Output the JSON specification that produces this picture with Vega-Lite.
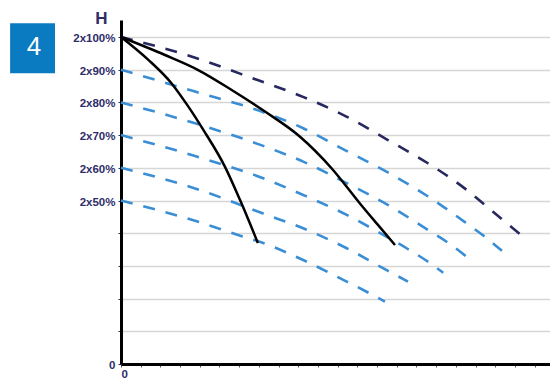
{
  "$schema": "https://vega.github.io/schema/vega-lite/v6.json",
  "width": 429,
  "height": 344,
  "autosize": {"type": "none"},
  "padding": {"left": 121, "top": 20, "right": 0, "bottom": 17},
  "background": "#ffffff",
  "config": {"view": {"stroke": null}},
  "datasets": {
    "curves": [
      {"curve": "c100", "type": "max", "q": 0, "h": 100},
      {"curve": "c100", "type": "max", "q": 3.65, "h": 93.9},
      {"curve": "c100", "type": "max", "q": 6.9, "h": 86.9},
      {"curve": "c100", "type": "max", "q": 9.24, "h": 81.7},
      {"curve": "c100", "type": "max", "q": 11.47, "h": 75.6},
      {"curve": "c100", "type": "max", "q": 13.55, "h": 68.5},
      {"curve": "c100", "type": "max", "q": 15.58, "h": 61.4},
      {"curve": "c100", "type": "max", "q": 17.56, "h": 53.2},
      {"curve": "c100", "type": "max", "q": 18.48, "h": 48.6},
      {"curve": "c100", "type": "max", "q": 19.39, "h": 44.0},
      {"curve": "c100", "type": "max", "q": 20.51, "h": 38.5},
      {"curve": "c90", "type": "speed", "q": 0, "h": 90},
      {"curve": "c90", "type": "speed", "q": 3.76, "h": 83.3},
      {"curve": "c90", "type": "speed", "q": 7.14, "h": 77.2},
      {"curve": "c90", "type": "speed", "q": 9.25, "h": 72.1},
      {"curve": "c90", "type": "speed", "q": 11.37, "h": 65.4},
      {"curve": "c90", "type": "speed", "q": 13.57, "h": 58.5},
      {"curve": "c90", "type": "speed", "q": 15.6, "h": 51.2},
      {"curve": "c90", "type": "speed", "q": 17.55, "h": 43.0},
      {"curve": "c90", "type": "speed", "q": 18.48, "h": 38.9},
      {"curve": "c90", "type": "speed", "q": 19.34, "h": 34.6},
      {"curve": "c80", "type": "speed", "q": 0, "h": 80},
      {"curve": "c80", "type": "speed", "q": 3.76, "h": 73.6},
      {"curve": "c80", "type": "speed", "q": 7.22, "h": 66.7},
      {"curve": "c80", "type": "speed", "q": 9.25, "h": 61.9},
      {"curve": "c80", "type": "speed", "q": 11.46, "h": 55.3},
      {"curve": "c80", "type": "speed", "q": 13.57, "h": 48.6},
      {"curve": "c80", "type": "speed", "q": 15.58, "h": 41.0},
      {"curve": "c80", "type": "speed", "q": 16.53, "h": 37.4},
      {"curve": "c80", "type": "speed", "q": 17.55, "h": 32.8},
      {"curve": "c70", "type": "speed", "q": 0, "h": 70},
      {"curve": "c70", "type": "speed", "q": 3.76, "h": 63.6},
      {"curve": "c70", "type": "speed", "q": 7.22, "h": 56.8},
      {"curve": "c70", "type": "speed", "q": 9.25, "h": 51.7},
      {"curve": "c70", "type": "speed", "q": 11.46, "h": 45.6},
      {"curve": "c70", "type": "speed", "q": 13.49, "h": 38.9},
      {"curve": "c70", "type": "speed", "q": 14.5, "h": 35.4},
      {"curve": "c70", "type": "speed", "q": 15.58, "h": 31.3},
      {"curve": "c70", "type": "speed", "q": 16.36, "h": 27.9},
      {"curve": "c60", "type": "speed", "q": 0, "h": 60},
      {"curve": "c60", "type": "speed", "q": 3.76, "h": 53.7},
      {"curve": "c60", "type": "speed", "q": 7.22, "h": 46.0},
      {"curve": "c60", "type": "speed", "q": 9.25, "h": 41.5},
      {"curve": "c60", "type": "speed", "q": 11.46, "h": 35.4},
      {"curve": "c60", "type": "speed", "q": 13.49, "h": 28.7},
      {"curve": "c60", "type": "speed", "q": 14.57, "h": 25.2},
      {"curve": "c50", "type": "speed", "q": 0, "h": 50},
      {"curve": "c50", "type": "speed", "q": 3.76, "h": 43.8},
      {"curve": "c50", "type": "speed", "q": 6.13, "h": 39.1},
      {"curve": "c50", "type": "speed", "q": 7.22, "h": 37.0},
      {"curve": "c50", "type": "speed", "q": 9.25, "h": 31.8},
      {"curve": "c50", "type": "speed", "q": 11.46, "h": 25.2},
      {"curve": "c50", "type": "speed", "q": 12.47, "h": 22.1},
      {"curve": "c50", "type": "speed", "q": 13.4, "h": 19.1},
      {"curve": "s1", "type": "system", "q": 0, "h": 100},
      {"curve": "s1", "type": "system", "q": 1.39, "h": 93.0},
      {"curve": "s1", "type": "system", "q": 2.57, "h": 85.8},
      {"curve": "s1", "type": "system", "q": 3.42, "h": 78.7},
      {"curve": "s1", "type": "system", "q": 4.18, "h": 71.6},
      {"curve": "s1", "type": "system", "q": 5.28, "h": 60.3},
      {"curve": "s1", "type": "system", "q": 6.04, "h": 50.2},
      {"curve": "s1", "type": "system", "q": 6.95, "h": 37.0},
      {"curve": "s2", "type": "system", "q": 0, "h": 100},
      {"curve": "s2", "type": "system", "q": 2.23, "h": 94.5},
      {"curve": "s2", "type": "system", "q": 3.92, "h": 89.9},
      {"curve": "s2", "type": "system", "q": 5.62, "h": 83.8},
      {"curve": "s2", "type": "system", "q": 7.31, "h": 77.2},
      {"curve": "s2", "type": "system", "q": 9.09, "h": 69.5},
      {"curve": "s2", "type": "system", "q": 10.7, "h": 59.8},
      {"curve": "s2", "type": "system", "q": 12.13, "h": 49.1},
      {"curve": "s2", "type": "system", "q": 12.98, "h": 43.0},
      {"curve": "s2", "type": "system", "q": 13.91, "h": 36.4}
    ],
    "badge": [
      {"label": "4", "x1": -5.63, "x2": -3.35, "y1": 88.9, "y2": 104.2, "tx": -4.42, "ty": 96.8}
    ]
  },
  "layer": [
    {
      "data": {"name": "curves"},
      "transform": [{"filter": "datum.type === 'speed'"}],
      "mark": {"type": "line", "interpolate": "monotone", "color": "#3a8ed6", "strokeWidth": 2.6, "strokeDash": [12, 11]},
      "encoding": {
        "x": {
          "field": "q", "type": "quantitative",
          "scale": {"domain": [0, 21.78], "nice": false, "zero": false},
          "axis": {
            "title": null,
            "values": [0,1,2,3,4,5,6,7,8,9,10,11,12,13,14,15,16,17,18,19,20,21],
            "tickCount": 40,
            "labelExpr": "datum.value === 0 ? '0' : ''",
            "grid": false,
            "domainColor": "#000000", "domainWidth": 3,
            "tickColor": "#555555", "tickSize": 3, "tickWidth": 1,
            "labelFont": "Liberation Sans", "labelFontWeight": "bold", "labelFontSize": 11.5,
            "labelColor": "#2e2d6a", "labelAlign": "left", "labelPadding": 1, "labelOverlap": false
          }
        },
        "y": {
          "field": "h", "type": "quantitative",
          "scale": {"domain": [0, 105.2], "nice": false, "zero": true},
          "axis": {
            "title": "H",
            "titleAngle": 0, "titleAlign": "center", "titleBaseline": "alphabetic",
            "titleX": -20, "titleY": 3.5,
            "titleFont": "Liberation Sans", "titleFontWeight": "bold", "titleFontSize": 17, "titleColor": "#2e2d6a",
            "values": [0,10,20,30,40,50,60,70,80,90,100],
            "tickCount": 40,
            "labelExpr": "datum.value === 0 ? '0' : (datum.value >= 50 ? '2x' + datum.value + '%' : '')",
            "grid": true, "gridColor": "#d6d6d6", "gridWidth": 1.5,
            "domainColor": "#000000", "domainWidth": 3,
            "tickColor": "#2e2d6a", "tickSize": 3, "tickWidth": 1,
            "labelFont": "Liberation Sans", "labelFontWeight": "bold", "labelFontSize": 11.5,
            "labelColor": "#2e2d6a", "labelPadding": 3, "labelOffset": 1.5, "labelOverlap": false
          }
        },
        "detail": {"field": "curve", "type": "nominal"}
      }
    },
    {
      "data": {"name": "curves"},
      "transform": [{"filter": "datum.type === 'max'"}],
      "mark": {"type": "line", "interpolate": "monotone", "color": "#27285f", "strokeWidth": 2.6, "strokeDash": [12, 11]},
      "encoding": {
        "x": {"field": "q", "type": "quantitative"},
        "y": {"field": "h", "type": "quantitative"},
        "detail": {"field": "curve", "type": "nominal"}
      }
    },
    {
      "data": {"name": "curves"},
      "transform": [{"filter": "datum.type === 'system'"}],
      "mark": {"type": "line", "interpolate": "monotone", "color": "#000000", "strokeWidth": 2.5},
      "encoding": {
        "x": {"field": "q", "type": "quantitative"},
        "y": {"field": "h", "type": "quantitative"},
        "detail": {"field": "curve", "type": "nominal"}
      }
    },
    {
      "data": {"name": "badge"},
      "mark": {"type": "rect", "color": "#0b7bc1", "clip": false},
      "encoding": {
        "x": {"field": "x1", "type": "quantitative"},
        "x2": {"field": "x2"},
        "y": {"field": "y1", "type": "quantitative"},
        "y2": {"field": "y2"}
      }
    },
    {
      "data": {"name": "badge"},
      "mark": {"type": "text", "color": "#ffffff", "font": "Liberation Sans", "fontSize": 26, "align": "center", "baseline": "middle", "clip": false},
      "encoding": {
        "x": {"field": "tx", "type": "quantitative"},
        "y": {"field": "ty", "type": "quantitative"},
        "text": {"field": "label"}
      }
    }
  ]
}
